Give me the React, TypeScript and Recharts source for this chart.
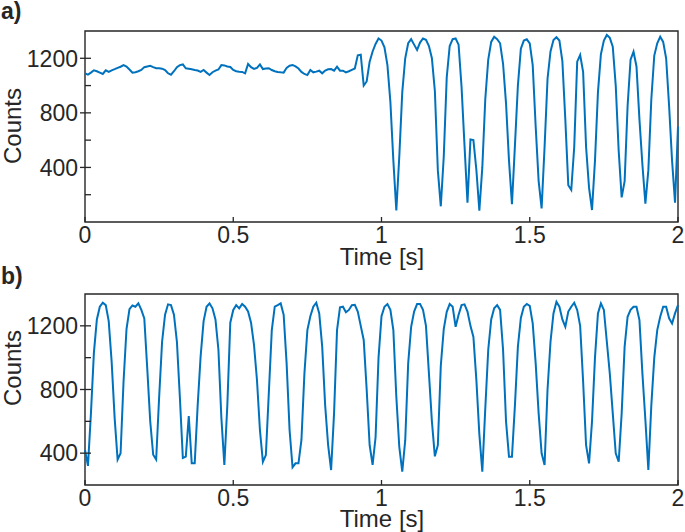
import { LineChart, Line, XAxis, YAxis, ReferenceArea } from 'recharts';

// sampling step of both traces, seconds
const SAMPLE_STEP = 0.01;

// panel a: steady signal, then oscillation from ~0.93 s
const countsA = [
  1090, 1080, 1095, 1112, 1105, 1095, 1085, 1112, 1100, 1112,
  1120, 1130, 1138, 1150, 1140, 1118, 1095, 1098, 1105, 1114,
  1135, 1140, 1145, 1135, 1127, 1127, 1124, 1114, 1090, 1080,
  1105, 1135, 1150, 1155, 1127, 1124, 1120, 1114, 1110, 1100,
  1114, 1095, 1078, 1098, 1110, 1118, 1150, 1148, 1140, 1136,
  1114, 1105, 1102, 1100, 1090, 1158, 1135, 1122, 1130, 1155,
  1121, 1125, 1127, 1114, 1105, 1100, 1097, 1095, 1130, 1146,
  1151, 1140, 1125, 1100, 1085, 1077, 1114, 1097, 1102, 1109,
  1090, 1110, 1119, 1121, 1109, 1139, 1109, 1109, 1097, 1105,
  1115, 1125, 1222, 1226, 1000, 1030, 1175, 1250, 1305, 1345,
  1330, 1280, 1150, 880, 450, 85, 480, 950, 1200, 1310,
  1340, 1300, 1261, 1315, 1345, 1335, 1290, 1200, 960, 380,
  115, 480, 1060, 1290, 1340, 1345, 1300, 990, 560, 142,
  605, 600, 381, 83, 400, 900, 1190, 1320, 1358, 1340,
  1310, 1160, 870, 450, 130, 560, 1000, 1270, 1330, 1339,
  1310, 1150, 700, 300, 100, 550, 1050, 1250, 1334, 1354,
  1330, 1180, 750, 270, 235, 550, 1175, 1224, 1100, 550,
  250, 88, 450, 950, 1230, 1330, 1371, 1350, 1285, 1000,
  520, 180, 300, 850, 1190, 1248, 1140, 750, 420, 135,
  380, 900, 1220, 1310, 1358, 1320, 1200, 850, 450, 142,
  700,
];

// panel b: oscillation over the whole window
const countsB = [
  420, 320, 650, 1030, 1240, 1320, 1345, 1330, 1230, 970,
  620, 360, 400, 850, 1180, 1305, 1328, 1320, 1341, 1300,
  1247, 930, 600, 390, 360, 750, 1100, 1270, 1335, 1330,
  1270, 1100, 750, 370, 378, 633, 336, 336, 700, 1010,
  1230, 1320, 1341, 1310, 1240, 1050, 620, 326, 700, 1220,
  1300, 1330, 1310, 1337, 1320, 1290, 1220, 1080, 860, 545,
  346, 388, 780, 1173, 1320, 1330, 1341, 1270, 964, 545,
  311, 336, 336, 483, 900, 1173, 1260, 1320, 1345, 1278,
  1069, 700, 450, 294, 650, 1173, 1316, 1320, 1285, 1300,
  1330, 1332, 1290, 1200, 1111, 800, 450, 326, 500, 1000,
  1260, 1320, 1337, 1300, 1173, 754, 440, 284, 480, 964,
  1194, 1290, 1337, 1337, 1300, 1200, 900, 600, 380, 450,
  950, 1180, 1288, 1337, 1320, 1194, 1270, 1330, 1335, 1290,
  1200, 1130, 859, 520, 284, 680, 1050, 1240, 1310, 1330,
  1300, 1050, 600, 378, 378, 700, 1069, 1250, 1320, 1337,
  1325, 1215, 964, 650, 399, 326, 800, 1100, 1278, 1351,
  1320, 1240, 1194, 1290, 1320, 1345, 1300, 1200, 850, 450,
  336, 600, 1000, 1278, 1341, 1300, 1100, 900, 650, 399,
  346, 650, 1069, 1257, 1300, 1320, 1320, 1236, 900, 608,
  294, 700, 1000, 1173, 1257, 1320, 1320, 1247, 1215, 1278,
  1330,
];

const timeTicks = [0, 0.5, 1, 1.5, 2];
const countTicksA = [200, 400, 600, 800, 1000, 1200];
const countTicksB = [400, 600, 800, 1000, 1200];

const toRows = (counts: number[]) =>
  counts.map((c, i) => ({ time: +(i * SAMPLE_STEP).toFixed(2), counts: c }));

const dataA = toRows(countsA);
const dataB = toRows(countsB);

const INK = '#262626';
const BLUE = '#0072BD';
const FONT = '"Liberation Sans", Arial, Helvetica, sans-serif';

function YTick(props: any) {
  const { x, y, payload } = props;
  const major = payload.value % 400 === 0;
  return (
    <g>
      <line x1={major ? x - 5 : x} x2={x + 6} y1={y} y2={y} stroke={INK} strokeWidth={1.3} />
      {major && (
        <text x={x - 7} y={y} dy="0.36em" textAnchor="end" fill={INK} fontSize={23} fontFamily={FONT}>
          {payload.value}
        </text>
      )}
    </g>
  );
}

function XTick(props: any) {
  const { x, y, payload } = props;
  return (
    <g>
      <line x1={x} x2={x} y1={y} y2={y - 5} stroke={INK} strokeWidth={1.3} />
      <text x={x} y={y + 21} textAnchor="middle" fill={INK} fontSize={23} fontFamily={FONT}>
        {payload.value}
      </text>
    </g>
  );
}

function Panel({ data, domain, ticks, height, top, xAxisHeight }: any) {
  return (
    <LineChart
      width={685}
      height={height}
      data={data}
      margin={{ top, right: 7, bottom: 0, left: 0 }}
    >
      <XAxis
        dataKey="time"
        type="number"
        domain={[0, 2]}
        ticks={timeTicks}
        interval={0}
        height={xAxisHeight}
        axisLine={false}
        tickLine={false}
        tickSize={0}
        tickMargin={0}
        tick={<XTick />}
      />
      <YAxis
        type="number"
        domain={domain}
        ticks={ticks}
        interval={0}
        width={85}
        axisLine={false}
        tickLine={false}
        tickSize={0}
        tickMargin={0}
        tick={<YTick />}
      />
      <Line
        type="linear"
        dataKey="counts"
        stroke={BLUE}
        strokeWidth={2}
        dot={false}
        isAnimationActive={false}
      />
      <ReferenceArea
        x1={0}
        x2={2}
        y1={domain[0]}
        y2={domain[1]}
        fill="none"
        fillOpacity={0}
        stroke={INK}
        strokeWidth={1.4}
      />
    </LineChart>
  );
}

export default function App() {
  const titleStyle = { fontFamily: FONT, fill: INK };
  return (
    <div style={{ position: 'absolute', left: 0, top: 0, width: 685, height: 532, background: '#fff' }}>
      <div style={{ position: 'absolute', left: 0, top: 0 }}>
        <Panel data={dataA} domain={[0, 1400]} ticks={countTicksA} height={265} top={31} xAxisHeight={43} />
      </div>
      <div style={{ position: 'absolute', left: 0, top: 265 }}>
        <Panel data={dataB} domain={[200, 1400]} ticks={countTicksB} height={267} top={29} xAxisHeight={47} />
      </div>
      <svg
        width={685}
        height={532}
        style={{ position: 'absolute', left: 0, top: 0, pointerEvents: 'none' }}
      >
        <text x={1} y={19} fontSize={23} fontWeight="bold" style={titleStyle}>a)</text>
        <text x={1} y={284} fontSize={23} fontWeight="bold" style={titleStyle}>b)</text>
        <text transform="translate(21,126) rotate(-90)" textAnchor="middle" fontSize={24} style={titleStyle}>
          Counts
        </text>
        <text transform="translate(21,368) rotate(-90)" textAnchor="middle" fontSize={24} style={titleStyle}>
          Counts
        </text>
        <text x={382} y={265} textAnchor="middle" fontSize={24} style={titleStyle}>Time [s]</text>
        <text x={382} y={527} textAnchor="middle" fontSize={24} style={titleStyle}>Time [s]</text>
      </svg>
    </div>
  );
}
